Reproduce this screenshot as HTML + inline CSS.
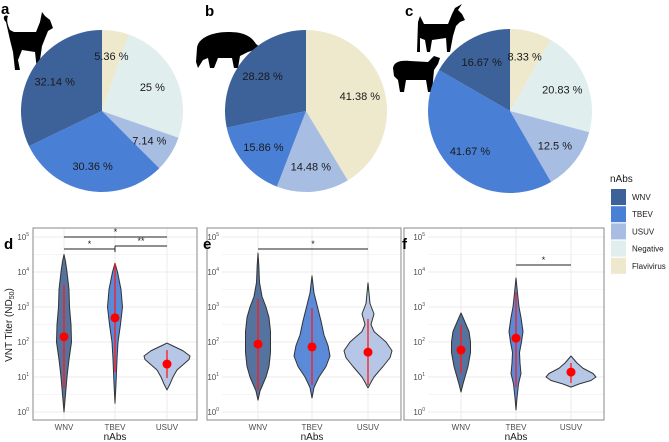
<!DOCTYPE html>
<html><head><meta charset="utf-8"><style>
html,body{margin:0;padding:0;background:#fff;}
svg{display:block;font-family:"Liberation Sans",sans-serif;}
</style></head><body>
<svg id="fig" width="669" height="442" viewBox="0 0 669 442" xmlns="http://www.w3.org/2000/svg">
  <g id="animals" fill="#000">
    <path d="M6,22 C2,18 4,14 8,16 C6,20 8,26 10,30 L14,32 L36,32 L40,22 L42,12 L45,16 L50,20 L53,28 L48,31 L46,36 L42,46 L40,60 L42,70 L37,70 L35,52 L22,50 L18,60 L20,70 L15,70 L13,52 L10,40 Z"/>
    <path d="M197,48 C198,38 212,32 228,32 C240,32 250,34 256,44 L260,47 L254,50 L248,52 L240,56 L238,68 L234,68 L232,58 L218,58 L214,68 L210,68 L208,58 L203,60 L198,68 L196,62 Z"/>
    <path d="M418,22 L420,16 L424,24 L448,24 L452,14 L455,8 L462,4 L458,10 L462,14 L465,20 L460,22 L456,26 L453,36 L450,52 L447,52 L446,38 L432,40 L430,52 L427,52 L425,40 L420,38 L420,52 L417,52 Z"/>
    <path d="M393,68 C394,62 400,60 410,61 L428,62 L434,56 L440,58 L438,64 L434,70 L432,92 L428,92 L426,80 L406,80 L404,92 L400,92 L398,80 L394,76 Z"/>
  </g>
  <g id="pies"></g>
  <g id="violins"></g>
  <g id="legend"></g>
</svg>
<script>
const NS='http://www.w3.org/2000/svg';
const categories=['WNV','TBEV','USUV','Negative','Flavivirus'];
const colors={WNV:'#3d6199',TBEV:'#4a7fd6',USUV:'#a7bde2',Negative:'#e0eeee',Flavivirus:'#eee8cd'};
const violinColors={WNV:'#56739f',TBEV:'#5b8ad8',USUV:'#b5c6e6'};
// pie data (clockwise from 12 o'clock)
const pieASlices=['Flavivirus','Negative','USUV','TBEV','WNV'];
const pieAValues=[5.36,25,7.14,30.36,32.14];
const pieBSlices=['Flavivirus','USUV','TBEV','WNV'];
const pieBValues=[41.38,14.48,15.86,28.28];
const pieCSlices=['Flavivirus','Negative','USUV','TBEV','WNV'];
const pieCValues=[8.33,20.83,12.5,41.67,16.67];
// violin data: [log10 titer, density]
const dWNV=[[0,0],[0.5,1.5],[1,3],[1.5,5],[2,7.5],[2.5,7],[3,5.5],[3.5,5],[4,3],[4.3,1.5],[4.5,0]];
const dTBEV=[[0.25,0],[0.8,1],[1.5,2],[2,3],[2.5,5.5],[3,7.5],[3.5,6],[4,2.5],[4.25,0]];
const dUSUV=[[0.63,0],[0.8,3],[1,6],[1.2,10],[1.35,16],[1.5,22],[1.6,23],[1.75,16],[1.9,5],[1.97,0]];
const eWNV=[[0.34,0],[0.6,2],[0.8,5],[1,8],[1.3,11],[1.7,12.5],[2.3,12.5],[2.7,11],[3,8],[3.3,4],[3.7,1.5],[4.2,0.8],[4.54,0]];
const eTBEV=[[0.4,0],[0.7,2],[1,7],[1.3,14],[1.6,18],[1.9,16],[2.2,12],[2.6,9],[3,5.5],[3.4,2],[3.89,0]];
const eUSUV=[[0.69,0],[0.85,3],[1,6],[1.3,15],[1.55,22],[1.75,24],[2,18],[2.3,6],[2.5,3],[2.8,6],[3.1,2],[3.69,0]];
const fWNV=[[0.57,0],[0.8,2],[1,4],[1.3,7],[1.7,9.5],[2,9.5],[2.3,8],[2.5,5],[2.7,2],[2.83,0]];
const fTBEV=[[0.06,0],[0.4,1],[0.8,2.5],[1.1,5],[1.4,4],[1.7,3.5],[2,5.5],[2.3,7],[2.7,5],[3,3],[3.4,1.5],[3.83,0]];
const fUSUV=[[0.71,0],[0.8,8],[0.9,20],[1,25],[1.1,22],[1.25,12],[1.4,6],[1.6,0]];
// mean points (log10) and range lines [low, high]
const dMeans=[2.15,2.69,1.37]; const dRanges=[[0.69,3.63],[1.14,4.25],[0.97,1.77]];
const eMeans=[1.94,1.86,1.71]; const eRanges=[[0.63,3.23],[0.77,2.97],[0.77,2.66]];
const fMeans=[1.77,2.11,1.14]; const fRanges=[[1.11,2.49],[0.71,3.43],[0.83,1.4]];
const yTicks=[0,1,2,3,4,5];
const groups=['WNV','TBEV','USUV'];

function mk(tag,attrs,parent,text){const e=document.createElementNS(NS,tag);for(const k in attrs)e.setAttribute(k,attrs[k]);if(text!==undefined)e.textContent=text;parent.appendChild(e);return e;}

// pies
const pieG=document.getElementById('pies');
function pie(cx,cy,r,slices,vals,letter,lx,ly){
  const g=mk('g',{},pieG);
  
  
  const tot=vals.reduce((a,b)=>a+b,0);
  let acc=0;
  const mids=[];
  slices.forEach((s,i)=>{
    const a0=acc/tot*2*Math.PI; acc+=vals[i]; const a1=acc/tot*2*Math.PI;
    const p=(a)=>[cx+r*Math.sin(a),cy-r*Math.cos(a)];
    const [x0,y0]=p(a0),[x1,y1]=p(a1);
    const large=(a1-a0)>Math.PI?1:0;
    const path=mk('path',{d:`M${cx},${cy}L${x0},${y0}A${r},${r} 0 ${large} 1 ${x1},${y1}Z`,fill:colors[s]},g);
    
    
    mids.push((a0+a1)/2);
  });
  slices.forEach((s,i)=>{
    const am=mids[i], lr=r*0.69;
    const t=mk('text',{x:cx+lr*Math.sin(am),y:cy-lr*Math.cos(am)+4,'text-anchor':'middle','font-size':'11',fill:'#1a1a1a'},g,vals[i]+' %');
    
    
  });
  const L=mk('text',{x:lx,y:ly,'font-size':'15','font-weight':'bold'},g,letter);
  
  
}
pie(102,111,81,pieASlices,pieAValues,'a',1,14);
pie(306,111,81,pieBSlices,pieBValues,'b',205,16);
pie(510,111,82,pieCSlices,pieCValues,'c',405,16);

// violins
const vG=document.getElementById('violins');
function yScale(v){return 412-35*v;}
function panel(opts){
  const g=mk('g',{},vG);
  
  
  const xs=opts.centers;
  for(let k=0;k<=5;k+=0.5){
    const ln=mk('line',{x1:opts.gx0,x2:opts.bx1,y1:yScale(k),y2:yScale(k),stroke:'#ebebeb','stroke-width':k%1===0?1:0.6},g);
    
    
  }
  xs.forEach(x=>{const ln=mk('line',{x1:x,x2:x,y1:228,y2:420,stroke:'#ebebeb'},g);
    
    });
  const box=mk('rect',{x:opts.bx0,y:228,width:opts.bx1-opts.bx0,height:192,fill:'none',stroke:'#8a8a8a','stroke-width':1},g);
  
  
  yTicks.forEach(k=>{
    const t=mk('text',{x:opts.tx,y:yScale(k)+3,'text-anchor':'end','font-size':'8',fill:'#4d4d4d'},g);
    
    
    mk('tspan',{},t,'10');
    mk('tspan',{dy:'-4','font-size':'5'},t,String(k));
  });
  opts.data.forEach((prof,i)=>{
    const cx=xs[i];
    let right=prof.map(p=>`${cx+p[1]},${yScale(p[0])}`);
    let left=prof.slice().reverse().map(p=>`${cx-p[1]},${yScale(p[0])}`);
    const poly=mk('polygon',{points:right.concat(left).join(' '),fill:violinColors[groups[i]],stroke:'#333','stroke-width':1,'stroke-linejoin':'round'},g);
    
    
    const rl=mk('line',{x1:cx,x2:cx,y1:yScale(opts.ranges[i][0]),y2:yScale(opts.ranges[i][1]),stroke:'#ff1a1a','stroke-width':1.3},g);
    
    
    const c=mk('circle',{cx:cx,cy:yScale(opts.means[i]),r:4.5,fill:'#ff0000'},g);
    
    
    const xl=mk('text',{x:cx,y:430,'text-anchor':'middle','font-size':'8',fill:'#4d4d4d'},g,groups[i]);
    
    
  });
  const xt=mk('text',{x:xs[1],y:440,'text-anchor':'middle','font-size':'10',fill:'#1a1a1a'},g,'nAbs');
  
  
  opts.sig.forEach(s=>{
    const l=mk('line',{x1:xs[s[0]],x2:xs[s[1]],y1:s[2],y2:s[2],stroke:'#222','stroke-width':1},g);
    
    
    const t=mk('text',{x:(xs[s[0]]+xs[s[1]])/2,y:s[2]-2,'text-anchor':'middle','font-size':'9',fill:'#222'},g,s[3]);
    
    
  });
  const L=mk('text',{x:opts.lx,y:249,'font-size':'15','font-weight':'bold'},g,opts.letter);
  
  
}
panel({letter:'d',centers:[64,115,167],bx0:33,bx1:197,gx0:33,tx:29,lx:4,data:[dWNV,dTBEV,dUSUV],means:dMeans,ranges:dRanges,
  sig:[[0,2,237,'*'],[0,1,249,'*'],[1,2,246,'**']]});
panel({letter:'e',centers:[258,312,368],bx0:207,bx1:401,gx0:222,tx:219,lx:203,data:[eWNV,eTBEV,eUSUV],means:eMeans,ranges:eRanges,
  sig:[[0,2,249,'*']]});
panel({letter:'f',centers:[461,516,571],bx0:404,bx1:604,gx0:428,tx:425,lx:402,data:[fWNV,fTBEV,fUSUV],means:fMeans,ranges:fRanges,
  sig:[[1,2,265,'*']]});
const yt=mk('text',{x:12,y:325,'text-anchor':'middle','font-size':'10',fill:'#1a1a1a',transform:'rotate(-90 12 325)'},vG);


mk('tspan',{},yt,'VNT Titer (ND');
mk('tspan',{dy:'2','font-size':'7'},yt,'50');
mk('tspan',{dy:'-2'},yt,')');
{const l=mk('line',{x1:115,x2:115,y1:246,y2:252,stroke:'#222'},vG);

}

const lg=document.getElementById('legend');
const lt=mk('text',{x:610,y:182,'font-size':'10',fill:'#1a1a1a'},lg,'nAbs');


categories.forEach((c,i)=>{
  const y=189+i*17.2;
  const r=mk('rect',{x:611,y:y,width:15,height:16,fill:colors[c]},lg);
  
  
  const t=mk('text',{x:632,y:y+11,'font-size':'8',fill:'#1a1a1a'},lg,c);
  
  
});
</script>
</body></html>
